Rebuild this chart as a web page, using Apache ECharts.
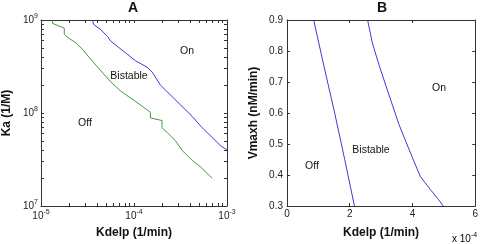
<!DOCTYPE html>
<html>
<head>
<meta charset="utf-8">
<script src="https://cdn.jsdelivr.net/npm/echarts@6/dist/echarts.min.js"></script>
<style>
  html, body { margin: 0; padding: 0; background: #fff; }
  #chart { width: 481px; height: 244px; }
</style>
</head>
<body>
<div id="chart"></div>
<script>
// --- Panel A: Kdelp vs Ka (log-log) ---
const aOnX = [3.58e-5, 3.67e-5, 4.40e-5, 5.19e-5, 5.62e-5, 6.90e-5, 8.49e-5, 1.04e-4, 1.39e-4, 1.57e-4, 1.93e-4, 2.68e-4, 4.22e-4, 5.40e-4, 6.92e-4, 8.49e-4, 1.0e-3];
const aOnY = [1.0e9, 9.0e8, 7.85e8, 6.67e8, 5.92e8, 5.04e8, 4.28e8, 3.64e8, 3.10e8, 2.75e8, 1.99e8, 1.44e8, 9.2e7, 6.95e7, 5.46e7, 4.46e7, 4.0e7];
const aOffX = [1.33e-5, 1.33e-5, 1.78e-5, 1.78e-5, 1.93e-5, 2.37e-5, 2.80e-5, 3.30e-5, 4.22e-5, 5.62e-5, 7.2e-5, 1.04e-4, 1.5e-4, 1.5e-4, 2.0e-4, 2.0e-4, 2.28e-4, 2.79e-4, 3.30e-4, 4.22e-4, 5.18e-4, 6.92e-4];
const aOffY = [1.0e9, 9.2e8, 8.18e8, 7.07e8, 6.51e8, 5.69e8, 4.83e8, 3.95e8, 2.98e8, 2.16e8, 1.72e8, 1.33e8, 1.02e8, 8.85e7, 8.3e7, 6.95e7, 6.15e7, 5.03e7, 3.95e7, 3.10e7, 2.64e7, 1.99e7];

// --- Panel B: Kdelp (x 1e-4) vs Vmaxh ---
const bOffX = [0.85, 1.18, 1.52, 1.84, 2.15];
const bOffY = [0.9, 0.75, 0.6, 0.45, 0.3];
const bOnX = [2.57, 2.72, 2.94, 3.15, 3.36, 3.57, 3.78, 3.99, 4.25, 4.57, 4.83, 4.98];
const bOnY = [0.9, 0.826, 0.753, 0.689, 0.626, 0.563, 0.510, 0.458, 0.395, 0.353, 0.321, 0.3];

const logMajorX = [1e-5, 1e-4, 1e-3];
const logMajorY = [1e7, 1e8, 1e9];

const FONT = 'Liberation Sans, Arial, sans-serif';
const BLUE = '#3b3bd6';
const GREEN = '#3f9a3f';
const AXIS = '#333';

// minor ticks at 1..9 of every decade
function decadeTicks(majors) {
  const out = [];
  for (let i = 0; i < majors.length; i++) {
    const m = majors[i];
    if (i === majors.length - 1) { out.push(m); break; }
    for (let k = 1; k < 10; k++) out.push(m * k);
  }
  return out;
}

const pow10 = v => {
  const e = Math.round(Math.log10(v));
  return '{b|10}{s|' + e + '}';
};
const powRich = {
  b: { fontSize: 10, fontFamily: FONT, color: '#222' },
  s: { fontSize: 7, fontFamily: FONT, color: '#222', padding: [0, 0, 7, 0] }
};

const line = (xi, yi, xs, ys, color) => ({
  type: 'line',
  xAxisIndex: xi,
  yAxisIndex: yi,
  data: xs.map((x, i) => [x, ys[i]]),
  showSymbol: false,
  lineStyle: { color, width: 1 },
  silent: true,
  animation: false
});

const nameStyle = { fontFamily: FONT, fontWeight: 'bold', fontSize: 12, color: '#111' };

const axisBase = {
  axisLine: { show: true, onZero: false, lineStyle: { color: AXIS, width: 1 } },
  splitLine: { show: false },
  axisTick: { inside: true, length: 3, lineStyle: { color: AXIS } }
};

const logX = (pos, labels) => ({
  ...axisBase,
  type: 'log', gridIndex: 0, position: pos, min: 1e-5, max: 1e-3,
  axisTick: { ...axisBase.axisTick, customValues: decadeTicks(logMajorX) },
  axisLabel: labels
    ? { customValues: logMajorX, formatter: pow10, rich: powRich, margin: 3 }
    : { show: false },
  name: labels ? 'Kdelp (1/min)' : '',
  nameLocation: 'middle', nameGap: 21,
  nameTextStyle: nameStyle
});

const logY = (pos, labels) => ({
  ...axisBase,
  type: 'log', gridIndex: 0, position: pos, min: 1e7, max: 1e9,
  axisTick: { ...axisBase.axisTick, customValues: decadeTicks(logMajorY) },
  axisLabel: labels
    ? { customValues: logMajorY, formatter: pow10, rich: powRich, margin: 3 }
    : { show: false },
  name: labels ? 'Ka (1/M)' : '',
  nameLocation: 'middle', nameGap: 28,
  nameTextStyle: nameStyle
});

const linX = (pos, labels) => ({
  ...axisBase,
  type: 'value', gridIndex: 1, position: pos, min: 0, max: 6, interval: 2,
  axisLabel: labels
    ? { fontFamily: FONT, fontSize: 10, color: '#222', margin: 3 }
    : { show: false },
  name: labels ? 'Kdelp (1/min)' : '',
  nameLocation: 'middle', nameGap: 21,
  nameTextStyle: nameStyle
});

const linY = (pos, labels) => ({
  ...axisBase,
  type: 'value', gridIndex: 1, position: pos, min: 0.3, max: 0.9, interval: 0.1,
  axisLabel: labels
    ? { fontFamily: FONT, fontSize: 10, color: '#222', margin: 4, formatter: v => v.toFixed(1) }
    : { show: false },
  name: labels ? 'Vmaxh (nM/min)' : '',
  nameLocation: 'middle', nameGap: 27,
  nameTextStyle: nameStyle
});

const txt = (x, y, s, extra) => ({
  type: 'text', x, y,
  style: { text: s, fontFamily: FONT, fontSize: 10.5, fill: '#111', align: 'center', verticalAlign: 'middle', ...extra },
  silent: true
});

const chart = echarts.init(document.getElementById('chart'), null, { renderer: 'canvas' });

const option = {
  animation: false,
  backgroundColor: '#fff',
  grid: [
    { left: 40, top: 20, width: 187, height: 190 },
    { left: 287, top: 20, width: 190, height: 190 }
  ],
  xAxis: [logX('bottom', true), logX('top', false), linX('bottom', true), linX('top', false)],
  yAxis: [logY('left', true), logY('right', false), linY('left', true), linY('right', false)],
  series: [
    line(0, 0, aOnX, aOnY, BLUE),
    line(0, 0, aOffX, aOffY, GREEN),
    line(2, 2, bOffX, bOffY, BLUE),
    line(2, 2, bOnX, bOnY, BLUE)
  ],
  graphic: [
    txt(133, 8, 'A', { fontWeight: 'bold', fontSize: 14 }),
    txt(382, 8, 'B', { fontWeight: 'bold', fontSize: 14 }),
    txt(187, 51, 'On'),
    txt(129, 76, 'Bistable'),
    txt(85, 123, 'Off'),
    txt(439, 88, 'On'),
    txt(371, 150, 'Bistable'),
    txt(312, 166, 'Off'),
    {
      type: 'text', x: 452, y: 232,
      style: { text: '{b|x 10}{s|-4}', fontFamily: FONT, rich: powRich },
      silent: true
    }
  ]
};

chart.setOption(option);
</script>
</body>
</html>
